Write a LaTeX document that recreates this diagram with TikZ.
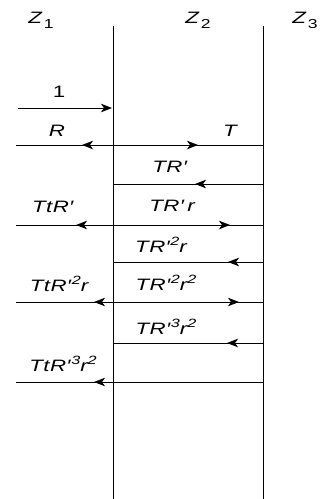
\documentclass[tikz,border=0pt]{standalone}
\usepackage{fontspec}
\setmainfont{Liberation Sans}
\newfontfamily\wfont[FakeStretch=1.35,LetterSpace=3]{Liberation Sans}
\usetikzlibrary{arrows.meta}
\newcommand{\pr}{\kern0.3pt′\kern0.6pt}
\newcommand{\sups}[1]{\raisebox{0.42em}{\fontsize{12}{12}\selectfont #1}}
\begin{document}
\begin{tikzpicture}[x=1pt,y=-1pt,
  wire/.style={line width=0.9pt},
  tipr/.style={wire,-{Stealth[length=11pt,width=8.5pt,inset=3pt]}},
  lbl/.style={inner sep=0pt,font=\wfont\fontsize{16.5}{16.5}\selectfont\itshape},
  zlbl/.style={inner sep=0pt,font=\wfont\fontsize{16.5}{16.5}\selectfont}]
\useasboundingbox (0,0) rectangle (322,499);
% vertical interfaces
\coordinate (b1t) at (113,26); \coordinate (b1b) at (113,499);
\coordinate (b2t) at (263,26); \coordinate (b2b) at (263,499);
\draw[wire] (b1t) -- (b1b);
\draw[wire] (b2t) -- (b2b);
% medium labels
\node[zlbl] (z1) at (41,20) {\textit{Z}\kern1pt\raisebox{-0.3em}{\fontsize{13}{13}\selectfont 1}};
\node[zlbl] (z2) at (198,20) {\textit{Z}\kern1pt\raisebox{-0.3em}{\fontsize{13}{13}\selectfont 2}};
\node[zlbl] (z3) at (305,20) {\textit{Z}\kern1pt\raisebox{-0.3em}{\fontsize{13}{13}\selectfont 3}};
% row 1
\coordinate (a1) at (18,108); \coordinate (a1e) at (112,108);
\draw[tipr] (a1) -- (a1e);
\node[zlbl] (l1) at (59,92) {1};
% row 2
\coordinate (a2l) at (16,145); \coordinate (a2m) at (113,145); \coordinate (a2r) at (263,145);
\coordinate (t2l) at (82,145); \coordinate (t2r) at (198,145);
\draw[wire] (a2l) -- (a2r);
\draw[tipr] (a2m) -- (t2l);
\draw[tipr] (a2m) -- (t2r);
\node[lbl] (lR) at (57,131) {R};
\node[lbl] (lT) at (230,131) {T};
% row 3
\coordinate (a3l) at (113,184); \coordinate (a3r) at (263,184); \coordinate (t3) at (195,184);
\draw[wire] (a3l) -- (a3r);
\draw[tipr] (a3r) -- (t3);
\node[lbl] (l3) at (170,167) {TR\pr};
% row 4
\coordinate (a4l) at (16,225); \coordinate (a4m) at (113,225); \coordinate (a4r) at (263,225);
\coordinate (t4l) at (76,225); \coordinate (t4r) at (230,225);
\draw[wire] (a4l) -- (a4r);
\draw[tipr] (a4m) -- (t4l);
\draw[tipr] (a4m) -- (t4r);
\node[lbl] (l4a) at (53,207) {TtR\pr};
\node[lbl] (l4b) at (172,206) {TR\pr\,r};
% row 5
\coordinate (a5l) at (113,262); \coordinate (a5r) at (263,262); \coordinate (t5) at (228,262);
\draw[wire] (a5l) -- (a5r);
\draw[tipr] (a5r) -- (t5);
\node[lbl] (l5) at (161,245) {TR\pr\sups{2}r};
% row 6
\coordinate (a6l) at (16,302); \coordinate (a6m) at (113,302); \coordinate (a6r) at (263,302);
\coordinate (t6l) at (94,302); \coordinate (t6r) at (239,302);
\draw[wire] (a6l) -- (a6r);
\draw[tipr] (a6m) -- (t6l);
\draw[tipr] (a6m) -- (t6r);
\node[lbl] (l6a) at (59,284) {TtR\pr\sups{2}r};
\node[lbl] (l6b) at (166,283) {TR\pr\sups{2}r\sups{2}};
% row 7
\coordinate (a7l) at (113,343); \coordinate (a7r) at (263,343); \coordinate (t7) at (227,343);
\draw[wire] (a7l) -- (a7r);
\draw[tipr] (a7r) -- (t7);
\node[lbl] (l7) at (166,327) {TR\pr\sups{3}r\sups{2}};
% row 8
\coordinate (a8l) at (16,382); \coordinate (a8m) at (113,382); \coordinate (a8r) at (263,382);
\coordinate (t8l) at (94,382);
\draw[wire] (a8l) -- (a8r);
\draw[tipr] (a8m) -- (t8l);
\node[lbl] (l8) at (63,364) {TtR\pr\sups{3}r\sups{2}};
\end{tikzpicture}
\end{document}
